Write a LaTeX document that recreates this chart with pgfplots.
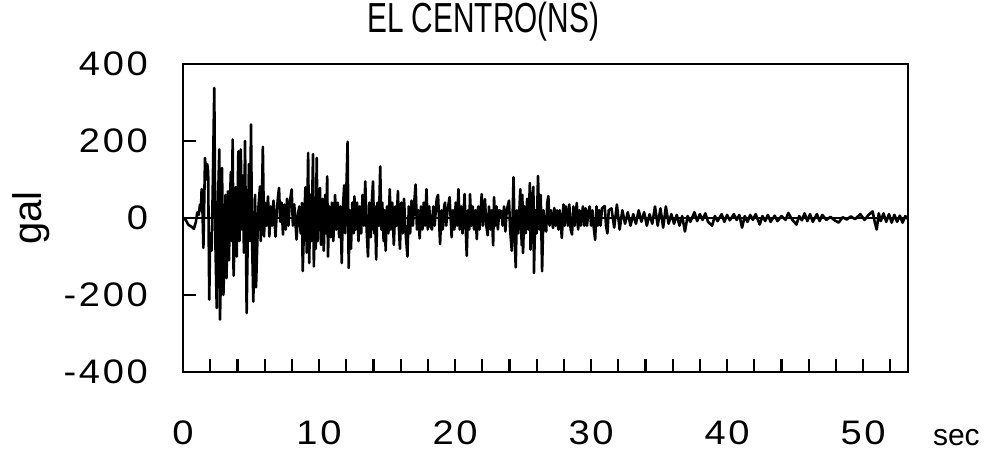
\documentclass[border=0pt]{standalone}
\usepackage{fontspec}
\setmainfont{Liberation Sans}
\newfontfamily\tickfont{Liberation Sans}[FakeStretch=1.12, LetterSpace=8]
\newfontfamily\titlefont{Liberation Sans}[FakeStretch=0.71]
\usepackage{pgfplots}
\pgfplotsset{compat=1.18}

\pgfplotstableread{
t a
0 0
0.2 -5
0.4 -18
0.6 -22
0.8 -28
0.95 -10
1.05 15
1.15 8
1.25 35
1.32 20
1.37 75
1.44 10
1.5 -78
1.56 40
1.62 156
1.7 100
1.78 140
1.85 120
1.93 -212
2.0 -40
2.1 -85
2.18 60
2.3 338
2.38 -60
2.48 -234
2.56 20
2.67 178
2.72 -264
2.8 -120
2.87 130
2.97 -200
3.05 -100
3.12 60
3.2 -156
3.3 69
3.38 -110
3.45 40
3.52 120
3.58 -60
3.65 204
3.72 -150
3.8 -40
3.87 80
3.95 -100
4.07 173
4.15 -60
4.25 178
4.33 -30
4.4 110
4.48 -90
4.56 200
4.68 -247
4.76 -50
4.85 140
4.92 -60
5.0 243
5.08 -60
5.17 -217
5.25 -40
5.3 60
5.37 -180
5.45 -80
5.55 30
5.66 82
5.72 -60
5.8 40
5.87 185
5.96 -48
6.03 40
6.12 -20
6.25 56
6.35 -48
6.45 30
6.55 -20
6.65 45
6.8 -48
6.9 20
7.0 60
7.06 78
7.15 -10
7.25 40
7.35 -43
7.45 35
7.55 -30
7.65 50
7.75 -20
7.85 40
7.99 74
8.08 -20
8.18 35
8.35 -56
8.45 10
8.55 30
8.65 -40
8.75 39
8.8 -138
8.9 -20
9.0 80
9.1 -90
9.2 169
9.28 -117
9.36 60
9.44 -60
9.56 166
9.62 -126
9.7 50
9.76 -80
9.83 156
9.9 -60
9.98 40
10.07 78
10.15 -70
10.25 50
10.35 -85
10.45 60
10.52 -40
10.6 108
10.66 -100
10.75 30
10.85 -50
10.95 40
11.05 -60
11.18 60
11.27 -30
11.38 40
11.48 -50
11.58 30
11.67 -117
11.75 20
11.85 85
11.93 -40
12.1 198
12.18 -130
12.26 20
12.35 -80
12.45 40
12.55 -40
12.6 56
12.7 -30
12.8 40
12.9 -60
13.0 30
13.1 -40
13.2 60
13.3 -20
13.4 95
13.5 -30
13.6 -100
13.7 40
13.8 -50
13.9 50
13.97 95
14.05 -40
14.12 30
14.2 -108
14.3 40
14.4 -20
14.5 134
14.58 -30
14.65 40
14.75 -60
14.82 20
14.9 -85
15.0 30
15.1 -40
15.2 75
15.28 -30
15.38 40
15.5 -70
15.6 30
15.7 -20
15.8 70
15.88 -30
15.95 -80
16.05 40
16.15 -40
16.25 50
16.35 -30
16.5 -100
16.6 30
16.7 -40
16.8 45
16.9 -20
17.0 40
17.1 87
17.2 -30
17.3 20
17.4 -53
17.5 30
17.6 -30
17.7 40
17.8 -20
17.9 75
18.0 -30
18.1 30
18.2 -20
18.3 -30
18.4 30
18.5 -20
18.65 49
18.75 60
18.9 -68
19.0 20
19.1 -30
19.2 30
19.26 40
19.35 -20
19.45 20
19.6 54
19.75 -50
19.85 20
19.95 -30
20.05 40
20.15 -20
20.25 75
20.35 -30
20.45 30
20.55 -40
20.7 62
20.86 -98
20.95 20
21.05 -30
21.1 62
21.2 -20
21.3 30
21.4 -30
21.5 20
21.6 -55
21.7 30
21.8 -30
21.96 62
22.05 -20
22.2 49
22.3 -20
22.4 -45
22.5 30
22.6 -30
22.7 20
22.8 -71
22.87 54
22.95 -20
23.05 30
23.15 -30
23.25 20
23.4 17
23.5 -20
23.6 30
23.7 -35
23.8 20
23.97 45
24.05 -30
24.17 -85
24.25 30
24.3 106
24.38 -40
24.46 -128
24.55 20
24.65 -40
24.8 75
24.9 -71
24.95 60
25.0 -91
25.1 30
25.2 -40
25.3 50
25.4 -30
25.5 91
25.55 -82
25.65 40
25.76 81
25.8 -143
25.9 20
26.0 -40
26.1 109
26.2 -30
26.3 60
26.4 -138
26.5 20
26.6 -20
26.7 -35
26.78 40
26.86 57
26.95 -20
27.05 20
27.2 -26
27.3 26
27.4 -20
27.5 20
27.6 -30
27.7 20
27.85 -52
27.97 35
28.05 -20
28.15 30
28.3 -20
28.4 35
28.5 -30
28.6 -43
28.7 30
28.8 -20
28.95 39
29.05 -30
29.15 20
29.25 -20
29.4 30
29.5 -20
29.6 25
29.7 -20
29.8 15
29.9 30
30.0 -20
30.1 20
30.2 -25
30.3 -57
30.4 30
30.5 -20
30.6 20
30.7 -20
30.8 25
31.0 31
31.1 -20
31.2 -40
31.3 20
31.5 25
31.7 -25
31.9 35
32.1 -30
32.3 20
32.5 -15
32.7 15
32.9 -20
33.1 10
33.3 -15
33.5 20
33.7 -10
33.9 15
34.1 -20
34.3 10
34.5 -15
34.7 30
34.9 -20
35.1 25
35.3 -25
35.5 30
35.7 -15
35.9 10
36.1 -15
36.3 8
36.5 -20
36.7 5
36.9 -35
37.1 5
37.3 -10
37.6 15
37.8 -8
38.0 10
38.2 -5
38.4 12
38.6 -10
38.9 -20
39.1 5
39.3 -8
39.6 10
39.8 -10
40.0 8
40.2 -6
40.5 10
40.7 -5
40.9 8
41.1 -25
41.3 5
41.5 -10
41.7 8
41.9 -5
42.1 10
42.4 -17
42.6 5
42.8 -8
43.0 8
43.2 -10
43.5 6
43.7 -8
44.0 5
44.3 -5
44.5 13
44.8 -5
45.1 -17
45.3 5
45.5 -6
45.7 12
45.9 -8
46.1 10
46.3 -10
46.6 10
46.8 -8
47.0 8
47.3 -5
47.6 3
47.9 -6
48.2 -12
48.5 2
48.8 -4
49.1 4
49.4 -3
49.8 10
50.1 -5
50.4 8
50.7 17
50.85 -10
51.0 -30
51.15 12
51.3 -8
51.5 12
51.7 -10
51.9 10
52.1 -12
52.3 8
52.5 -10
52.7 6
52.9 -12
53.1 5
53.3 -3
}\elcentro

\begin{document}
\begin{tikzpicture}
\begin{axis}[
  scale only axis,
  width=362.5pt, height=154pt,
  xmin=0, xmax=53.3, ymin=-400, ymax=400,
  axis line style={line width=1.1pt},
  tick style={line width=1.1pt, black},
  tick align=inside, tick pos=left,
  major tick length=6.5pt, minor tick length=6.5pt,
  xtick={0,10,20,30,40,50},
  minor xtick={2,4,...,52},
  xticklabels={0,10,20,30,40,50},
  ytick={-400,-200,0,200,400},
  yticklabels={-400,-200,0,200,400},
  ticklabel style={font=\tickfont\fontsize{17}{19}\selectfont},
  xticklabel style={yshift=-21pt},
  yticklabel style={xshift=-14pt},
  title={EL CENTRO(NS)},
  title style={font=\titlefont\fontsize{21}{23}\selectfont,
    at={(axis description cs:0.414,1)}, anchor=south, yshift=2pt},
  ylabel={gal},
  ylabel style={font=\fontsize{20}{22}\selectfont,
    at={(axis description cs:0,0.5)}, anchor=center, yshift=76pt},
  xlabel={sec},
  xlabel style={font=\fontsize{15}{18}\selectfont,
    at={(axis description cs:1,0)}, anchor=north west, xshift=9pt, yshift=-25pt},
]
\addplot[black, line width=0.6pt] coordinates {(0,0) (53.3,0)};
\addplot[black, line width=1.3pt, line join=round] table[x=t, y=a] {\elcentro};
\end{axis}
\pgfresetboundingbox
\path ([shift={(-91.5pt,-42pt)}]current axis.south west)
  rectangle ([shift={(42.5pt,32pt)}]current axis.north east);
\end{tikzpicture}
\end{document}
